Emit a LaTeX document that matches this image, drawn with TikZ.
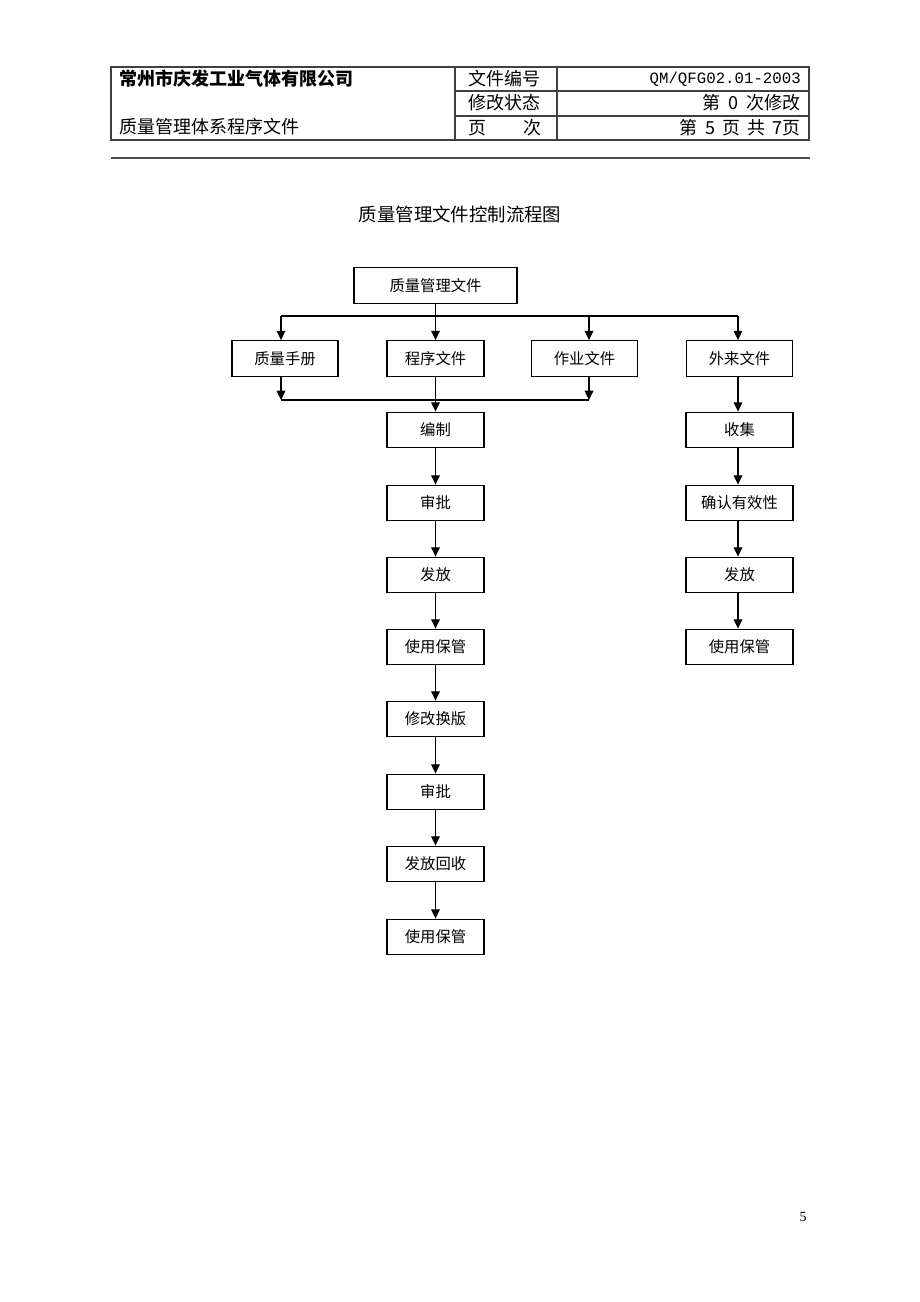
\documentclass[tikz,border=0pt]{standalone}
\usepackage{fontspec}
\setmainfont{Liberation Serif}
\newfontfamily\cjk{Noto Sans CJK SC}
\newfontfamily\codefont{Liberation Mono}
\usetikzlibrary{arrows.meta}
\begin{document}
\begin{tikzpicture}[x=0.75pt,y=-0.75pt,
  box/.style={draw,line width=1pt,inner sep=0pt,minimum height=26.6pt,font=\cjk\fontsize{11.5}{13}\selectfont},
  wbox/.style={box,minimum width=79.5pt},
  nbox/.style={box,minimum width=72.75pt},
  rbox/.style={box,minimum width=80.25pt},
  arr/.style={line width=1pt,-{Triangle[length=7pt,width=6.5pt]}},
  ln/.style={line width=1pt},
  hdr/.style={inner sep=0pt,font=\cjk\fontsize{13.5}{15}\selectfont},
  tab/.style={line width=0.8pt,black!75}]
\useasboundingbox[fill=white] (0,0) rectangle (920,1302);
% header table
\draw[tab] (111,67) rectangle (809,140);
\draw[tab] (455,67) -- (455,140);
\draw[tab] (557,67) -- (557,140);
\draw[tab] (455,91) -- (809,91);
\draw[tab] (455,116) -- (809,116);
\draw[line width=1.6pt,black!70] (111,158) -- (810,158);
\node[hdr,anchor=west,font=\cjk\bfseries\fontsize{13.5}{15}\selectfont] (co) at (119,79) {常州市庆发工业气体有限公司};
\node[hdr,anchor=west] (doc) at (119,127) {质量管理体系程序文件};
\node[hdr,anchor=west] (h1) at (468,79) {文件编号};
\node[hdr,anchor=west] (h2) at (468,103) {修改状态};
\node[hdr,anchor=west] (h3a) at (468,128) {页};
\node[hdr,anchor=east] (h3b) at (542,128) {次};
\node[hdr,anchor=east,font=\codefont\fontsize{11.8}{14}\selectfont] (v1) at (801,79) {QM/QFG02.01-2003};
\node[hdr,anchor=east] (v2) at (801,103) {第\hspace{0.45em}0\hspace{0.45em}次修改};
\node[hdr,anchor=east] (v3) at (801,128) {第\hspace{0.4em}5\hspace{0.4em}页\hspace{0.4em}共\hspace{0.4em}7页};
% title
\node[hdr,font=\cjk\fontsize{13.8}{16}\selectfont] (title) at (460,214) {质量管理文件控制流程图};
% flowchart
\node[box,minimum width=122.25pt] (top) at (435.5,285.5) {质量管理文件};
\node[wbox] (qm) at (285,358.5) {质量手册};
\node[nbox] (prog) at (435.5,358.5) {程序文件};
\node[wbox] (work) at (584.5,358.5) {作业文件};
\node[wbox] (ext) at (739.5,358.5) {外来文件};
\node[nbox] (l1) at (435.5,430) {编制};
\node[nbox] (l2) at (435.5,503) {审批};
\node[nbox] (l3) at (435.5,575) {发放};
\node[nbox] (l4) at (435.5,647) {使用保管};
\node[nbox] (l5) at (435.5,719) {修改换版};
\node[nbox] (l6) at (435.5,792) {审批};
\node[nbox] (l7) at (435.5,864) {发放回收};
\node[nbox] (l8) at (435.5,937) {使用保管};
\node[rbox] (r1) at (739.5,430) {收集};
\node[rbox] (r2) at (739.5,503) {确认有效性};
\node[rbox] (r3) at (739.5,575) {发放};
\node[rbox] (r4) at (739.5,647) {使用保管};
\coordinate (busT) at (435.5,316);
\coordinate (busB) at (435.5,400);
\coordinate (qx) at (281,0);
\coordinate (wx) at (589,0);
\coordinate (ex) at (738,0);
\draw[ln] (top.south) -- (busT);
\draw[ln] (qx |- busT) -- (ex |- busT);
\draw[arr] (qx |- busT) -- (qx |- qm.north);
\draw[arr] (busT) -- (prog.north);
\draw[arr] (wx |- busT) -- (wx |- work.north);
\draw[arr] (ex |- busT) -- (ex |- ext.north);
\draw[arr] (qx |- qm.south) -- (qx |- busB);
\draw[arr] (wx |- work.south) -- (wx |- busB);
\draw[ln] (qx |- busB) -- (wx |- busB);
\draw[arr] (prog.south) -- (l1.north);
\foreach \a/\b in {l1/l2,l2/l3,l3/l4,l4/l5,l5/l6,l6/l7,l7/l8}
  \draw[arr] (\a.south) -- (\b.north);
\draw[arr] (ex |- ext.south) -- (ex |- r1.north);
\draw[arr] (ex |- r1.south) -- (ex |- r2.north);
\draw[arr] (ex |- r2.south) -- (ex |- r3.north);
\draw[arr] (ex |- r3.south) -- (ex |- r4.north);
% page number
\node[inner sep=0pt,font=\fontsize{10.5}{12}\selectfont] (pg) at (803,1217) {5};
\end{tikzpicture}
\end{document}
